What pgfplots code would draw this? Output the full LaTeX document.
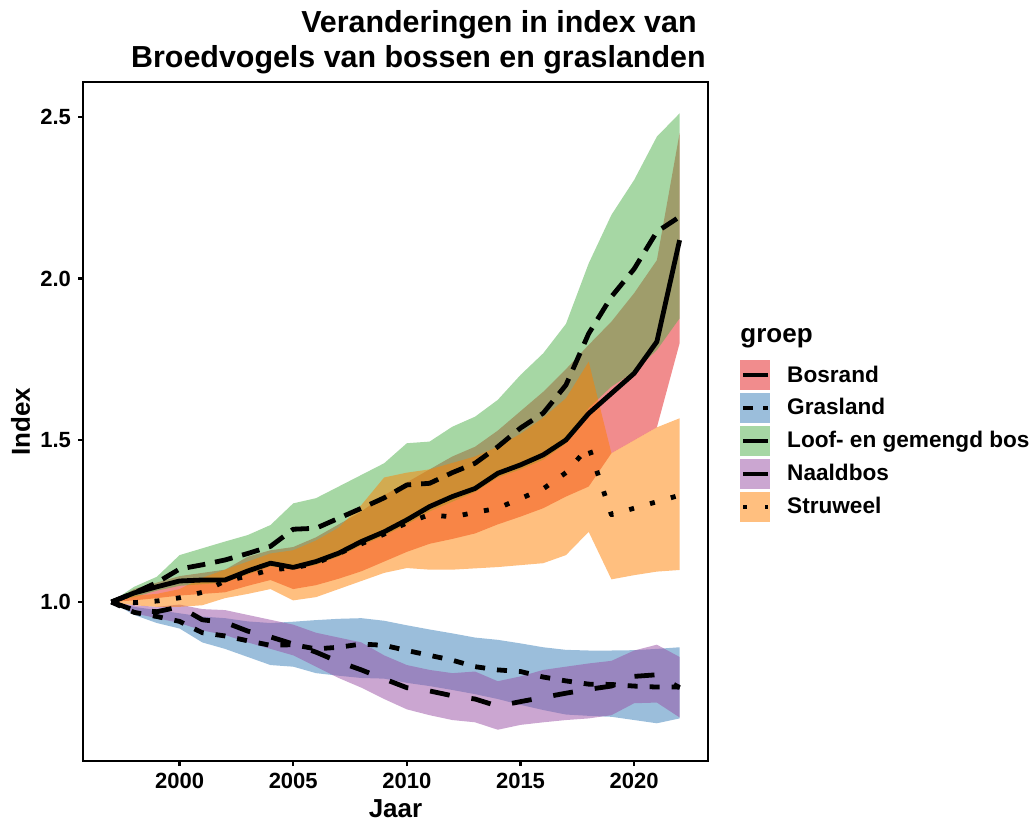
\documentclass[border=0pt]{standalone}
\usepackage{fontspec}
\setmainfont{Liberation Sans}
\usepackage{pgfplots}
\pgfplotsset{compat=1.18}
\usepackage{pgfplotstable}
\usepgfplotslibrary{fillbetween}

\definecolor{cB}{HTML}{E41A1C}
\definecolor{cG}{HTML}{377EB8}
\definecolor{cL}{HTML}{4DAF4A}
\definecolor{cN}{HTML}{984EA3}
\definecolor{cS}{HTML}{FF7F00}

\pgfplotstableread{
year mean lo hi
1997 1.000 1.000 1.000
1998 1.028 1.005 1.040
1999 1.047 1.012 1.060
2000 1.065 1.020 1.080
2001 1.068 1.025 1.090
2002 1.068 1.030 1.100
2003 1.096 1.050 1.140
2004 1.120 1.068 1.160
2005 1.107 1.040 1.170
2006 1.125 1.052 1.200
2007 1.151 1.072 1.240
2008 1.187 1.095 1.280
2009 1.217 1.125 1.330
2010 1.254 1.155 1.370
2011 1.295 1.180 1.410
2012 1.326 1.195 1.450
2013 1.351 1.212 1.480
2014 1.398 1.240 1.530
2015 1.424 1.264 1.590
2016 1.455 1.290 1.650
2017 1.501 1.326 1.720
2018 1.583 1.357 1.795
2019 1.645 1.460 1.867
2020 1.707 1.500 1.955
2021 1.805 1.540 2.057
2022 2.119 1.800 2.450
}\bosrand

\pgfplotstableread{
year mean lo hi
1997 1.000 1.000 1.000
1998 0.968 0.960 0.985
1999 0.955 0.935 0.975
2000 0.940 0.918 0.965
2001 0.905 0.875 0.955
2002 0.895 0.855 0.950
2003 0.880 0.830 0.940
2004 0.866 0.805 0.935
2005 0.868 0.800 0.939
2006 0.855 0.780 0.944
2007 0.860 0.772 0.948
2008 0.870 0.765 0.950
2009 0.866 0.763 0.942
2010 0.850 0.750 0.928
2011 0.835 0.740 0.915
2012 0.820 0.728 0.903
2013 0.800 0.715 0.890
2014 0.790 0.700 0.883
2015 0.785 0.682 0.872
2016 0.768 0.666 0.860
2017 0.756 0.652 0.852
2018 0.746 0.648 0.850
2019 0.745 0.645 0.850
2020 0.740 0.635 0.851
2021 0.737 0.625 0.855
2022 0.737 0.640 0.860
}\grasland

\pgfplotstableread{
year mean lo hi
1997 1.000 1.000 1.000
1998 1.028 1.015 1.047
1999 1.060 1.035 1.078
2000 1.102 1.050 1.145
2001 1.115 1.055 1.166
2002 1.130 1.060 1.187
2003 1.150 1.085 1.207
2004 1.172 1.110 1.238
2005 1.225 1.100 1.305
2006 1.228 1.115 1.321
2007 1.259 1.140 1.357
2008 1.290 1.175 1.393
2009 1.322 1.205 1.429
2010 1.362 1.240 1.491
2011 1.367 1.280 1.496
2012 1.400 1.310 1.542
2013 1.429 1.340 1.573
2014 1.480 1.385 1.625
2015 1.538 1.410 1.702
2016 1.584 1.440 1.769
2017 1.671 1.490 1.860
2018 1.830 1.600 2.047
2019 1.944 1.666 2.197
2020 2.030 1.712 2.305
2021 2.145 1.779 2.439
2022 2.191 1.877 2.511
}\loof

\pgfplotstableread{
year mean lo hi
1997 1.000 1.000 1.000
1998 0.975 0.965 0.990
1999 0.970 0.950 0.985
2000 0.985 0.935 0.992
2001 0.945 0.912 0.978
2002 0.937 0.898 0.975
2003 0.910 0.875 0.960
2004 0.892 0.855 0.945
2005 0.870 0.835 0.930
2006 0.845 0.800 0.905
2007 0.815 0.765 0.890
2008 0.790 0.735 0.875
2009 0.762 0.700 0.835
2010 0.735 0.668 0.805
2011 0.725 0.650 0.790
2012 0.710 0.635 0.780
2013 0.700 0.628 0.785
2014 0.678 0.605 0.755
2015 0.692 0.620 0.770
2016 0.705 0.628 0.790
2017 0.718 0.635 0.800
2018 0.730 0.640 0.810
2019 0.740 0.650 0.818
2020 0.770 0.687 0.850
2021 0.775 0.689 0.868
2022 0.735 0.643 0.830
}\naald

\pgfplotstableread{
year mean lo hi
1997 1.000 1.000 1.000
1998 0.998 0.990 1.020
1999 1.003 0.985 1.025
2000 1.013 0.985 1.040
2001 1.030 0.990 1.075
2002 1.065 1.012 1.100
2003 1.080 1.025 1.125
2004 1.100 1.040 1.150
2005 1.105 1.005 1.160
2006 1.120 1.015 1.190
2007 1.150 1.040 1.230
2008 1.180 1.065 1.300
2009 1.210 1.090 1.385
2010 1.245 1.105 1.400
2011 1.270 1.100 1.410
2012 1.263 1.100 1.430
2013 1.277 1.104 1.450
2014 1.290 1.108 1.480
2015 1.320 1.114 1.520
2016 1.350 1.120 1.570
2017 1.400 1.145 1.630
2018 1.480 1.217 1.743
2019 1.270 1.070 1.460
2020 1.290 1.083 1.500
2021 1.310 1.094 1.540
2022 1.330 1.099 1.568
}\struweel

\begin{document}
\begin{tikzpicture}
\begin{axis}[
  name=ax, at={(0,0)}, anchor=south west,
  scale only axis, width=312.5pt, height=339.5pt,
  xmin=1995.75, xmax=2023.25, ymin=0.5083, ymax=2.6079,
  xtick={2000,2005,2010,2015,2020}, ytick={1,1.5,2,2.5},
  axis line style={line width=1.3pt, black},
  tick style={line width=1.1pt, black},
  major tick length=2.5pt,
  tick align=outside, tick pos=left,
  /pgf/number format/assume math mode=true,
  ticklabel style={font=\bfseries\fontsize{11}{13}\selectfont},
  xticklabel style={/pgf/number format/1000 sep={}},
  yticklabel style={/pgf/number format/.cd, fixed, fixed zerofill, precision=1},
  legend style={at={(1.0512,0.5906)}, anchor=north west, draw=none, fill=none,
    font=\bfseries\fontsize{11.3}{13}\selectfont, row sep=1.4pt, inner sep=0pt,
    nodes={inner sep=0pt},
    /tikz/every odd column/.append style={column sep=8.4pt}},
  legend cell align=left,
]
% ribbons
\addplot[draw=none, name path=bu, forget plot] table[x=year,y=hi]{\bosrand};
\addplot[draw=none, name path=bl, forget plot] table[x=year,y=lo]{\bosrand};
\addplot[fill=cB, fill opacity=0.5, draw=none, forget plot] fill between[of=bu and bl];
\addplot[draw=none, name path=gu, forget plot] table[x=year,y=hi]{\grasland};
\addplot[draw=none, name path=gl, forget plot] table[x=year,y=lo]{\grasland};
\addplot[fill=cG, fill opacity=0.5, draw=none, forget plot] fill between[of=gu and gl];
\addplot[draw=none, name path=lu, forget plot] table[x=year,y=hi]{\loof};
\addplot[draw=none, name path=ll, forget plot] table[x=year,y=lo]{\loof};
\addplot[fill=cL, fill opacity=0.5, draw=none, forget plot] fill between[of=lu and ll];
\addplot[draw=none, name path=nu, forget plot] table[x=year,y=hi]{\naald};
\addplot[draw=none, name path=nl, forget plot] table[x=year,y=lo]{\naald};
\addplot[fill=cN, fill opacity=0.5, draw=none, forget plot] fill between[of=nu and nl];
\addplot[draw=none, name path=su, forget plot] table[x=year,y=hi]{\struweel};
\addplot[draw=none, name path=sl, forget plot] table[x=year,y=lo]{\struweel};
\addplot[fill=cS, fill opacity=0.5, draw=none, forget plot] fill between[of=su and sl];
% lines
\addplot[black, line width=2.4pt, line join=round, forget plot] table[x=year,y=mean]{\bosrand};
\addplot[black, line width=2.4pt, line join=round, dash pattern=on 5pt off 6pt, forget plot] table[x=year,y=mean]{\grasland};
\addplot[black, line width=2.4pt, line join=round, dash pattern=on 9pt off 5pt, forget plot] table[x=year,y=mean]{\loof};
\addplot[black, line width=2.4pt, line join=round, dash pattern=on 10pt off 11pt, forget plot] table[x=year,y=mean]{\naald};
\addplot[black, line width=2.4pt, line join=round, dash pattern=on 2.5pt off 8.3pt, forget plot] table[x=year,y=mean]{\struweel};
% legend
\addlegendimage{legend image code/.code={\path[draw=none, fill=cB, fill opacity=0.5] (0pt,-7.5pt) rectangle (15pt,7.5pt); \draw[black, line width=2pt] (1.3pt,0pt) -- (13.7pt,0pt);}}
\addlegendentry{Bosrand}
\addlegendimage{legend image code/.code={\path[draw=none, fill=cG, fill opacity=0.5] (0pt,-7.5pt) rectangle (15pt,7.5pt); \draw[black, line width=2pt, dash pattern=on 5pt off 5pt] (1.3pt,0pt) -- (13.7pt,0pt);}}
\addlegendentry{Grasland}
\addlegendimage{legend image code/.code={\path[draw=none, fill=cL, fill opacity=0.5] (0pt,-7.5pt) rectangle (15pt,7.5pt); \draw[black, line width=2pt] (1.3pt,0pt) -- (13.7pt,0pt);}}
\addlegendentry{Loof- en gemengd bos}
\addlegendimage{legend image code/.code={\path[draw=none, fill=cN, fill opacity=0.5] (0pt,-7.5pt) rectangle (15pt,7.5pt); \draw[black, line width=2pt] (1.3pt,0pt) -- (13.7pt,0pt);}}
\addlegendentry{Naaldbos}
\addlegendimage{legend image code/.code={\path[draw=none, fill=cS, fill opacity=0.5] (0pt,-7.5pt) rectangle (15pt,7.5pt); \draw[black, line width=2pt, dash pattern=on 2.2pt off 8.8pt] (1.3pt,0pt) -- (13.7pt,0pt);}}
\addlegendentry{Struweel}
\end{axis}
% titles and labels
\node[anchor=base east, inner sep=0pt, font=\bfseries\fontsize{15.2}{18}\selectfont] at (307pt,364pt) {Veranderingen in index van};
\node[anchor=base east, inner sep=0pt, font=\bfseries\fontsize{15.2}{18}\selectfont] at (311.5pt,346.5pt) {Broedvogels van bossen en graslanden};
\node[anchor=base, inner sep=0pt, font=\bfseries\fontsize{13}{15}\selectfont] at (156.25pt,-28pt) {Jaar};
\node[anchor=base, rotate=90, inner sep=0pt, font=\bfseries\fontsize{13}{15}\selectfont] at (-26.5pt,169.75pt) {Index};
\node[anchor=base west, inner sep=0pt, font=\bfseries\fontsize{13}{15}\selectfont] at (328.5pt,209.2pt) {groep};
\pgfresetboundingbox
\path[use as bounding box] (-41.5pt,-30pt) rectangle (476.5pt,380.5pt);
\end{tikzpicture}
\end{document}
